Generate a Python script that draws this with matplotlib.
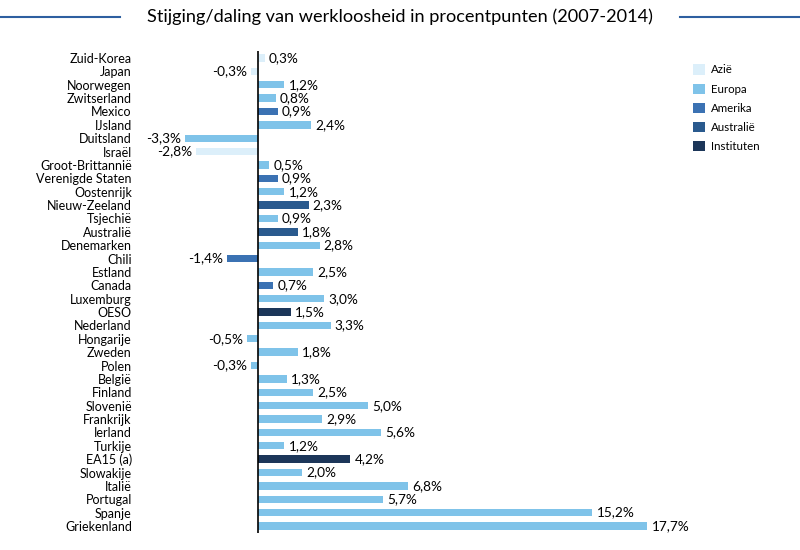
import matplotlib
matplotlib.use("Agg")
from matplotlib import pyplot as plt
from matplotlib.patches import Patch
from matplotlib.lines import Line2D

plt.rcParams['font.family'] = ['Lato', 'DejaVu Sans']

countries = ['Zuid-Korea', 'Japan', 'Noorwegen', 'Zwitserland', 'Mexico', 'IJsland',
             'Duitsland', 'Israël', 'Groot-Brittannië', 'Verenigde Staten', 'Oostenrijk',
             'Nieuw-Zeeland', 'Tsjechië', 'Australië', 'Denemarken', 'Chili', 'Estland',
             'Canada', 'Luxemburg', 'OESO', 'Nederland', 'Hongarije', 'Zweden', 'Polen',
             'België', 'Finland', 'Slovenië', 'Frankrijk', 'Ierland', 'Turkije', 'EA15 (a)',
             'Slowakije', 'Italië', 'Portugal', 'Spanje', 'Griekenland']
values = [0.3, -0.3, 1.2, 0.8, 0.9, 2.4, -3.3, -2.8, 0.5, 0.9, 1.2, 2.3, 0.9, 1.8, 2.8,
          -1.4, 2.5, 0.7, 3.0, 1.5, 3.3, -0.5, 1.8, -0.3, 1.3, 2.5, 5.0, 2.9, 5.6, 1.2,
          4.2, 2.0, 6.8, 5.7, 15.2, 17.7]
regions = ['Azië', 'Azië', 'Europa', 'Europa', 'Amerika', 'Europa', 'Europa', 'Azië',
           'Europa', 'Amerika', 'Europa', 'Australië', 'Europa', 'Australië', 'Europa',
           'Amerika', 'Europa', 'Amerika', 'Europa', 'Instituten', 'Europa', 'Europa',
           'Europa', 'Europa', 'Europa', 'Europa', 'Europa', 'Europa', 'Europa', 'Europa',
           'Instituten', 'Europa', 'Europa', 'Europa', 'Europa', 'Europa']

region_names = ['Azië', 'Europa', 'Amerika', 'Australië', 'Instituten']
region_colors = {'Azië': '#dceffa', 'Europa': '#7fc3e9', 'Amerika': '#3b72b3',
                 'Australië': '#2a5a8e', 'Instituten': '#1c3659'}

W, H = 800, 550
fig = plt.figure(figsize=(8, 5.5), dpi=100)

# axes placed so that 0 is at x=258px, 22 px per procentpunt
left_px, right_px = 170, 676
top_px, bot_px = 51.3, 532.7
ax = fig.add_axes([left_px / W, 1 - bot_px / H, (right_px - left_px) / W, (bot_px - top_px) / H])

ypos = list(range(len(countries)))
cols = [region_colors[r] for r in regions]
ax.barh(ypos, values, height=0.55, color=cols)
ax.set_xlim(-4, 19)
ax.set_ylim(len(countries) - 0.5, -0.5)
ax.axvline(0, color='black', lw=1.2)

for y, v in zip(ypos, values):
    txt = f"{v:.1f}%".replace('.', ',')
    if v >= 0:
        ax.annotate(txt, (v, y), xytext=(3, 0), textcoords='offset points',
                    ha='left', va='center', fontsize=9.8)
    else:
        ax.annotate(txt, (v, y), xytext=(-3, 0), textcoords='offset points',
                    ha='right', va='center', fontsize=9.8)

ax.set_yticks(ypos)
ax.set_yticklabels(countries, fontsize=9)
ax.tick_params(axis='y', length=0, pad=27.5)
ax.set_xticks([])
for s in ax.spines.values():
    s.set_visible(False)

# title with lines on both sides
fig.text(0.5, 1 - 17 / H, 'Stijging/daling van werkloosheid in procentpunten (2007-2014)',
         ha='center', va='center', fontsize=13.1)
fig.add_artist(Line2D([0, 120 / W], [1 - 17 / H] * 2, color='#2e5fa0', lw=1.5))
fig.add_artist(Line2D([680 / W, 1], [1 - 17 / H] * 2, color='#2e5fa0', lw=1.5))

handles = [Patch(facecolor=region_colors[r], label=r) for r in region_names]
fig.legend(handles=handles, loc='upper left', bbox_to_anchor=(683 / W, 1 - 54 / H),
           frameon=False, fontsize=8.3, handlelength=1.0, handleheight=1.0,
           handletextpad=0.5, labelspacing=0.7)

fig.savefig('out.png', dpi=100)
